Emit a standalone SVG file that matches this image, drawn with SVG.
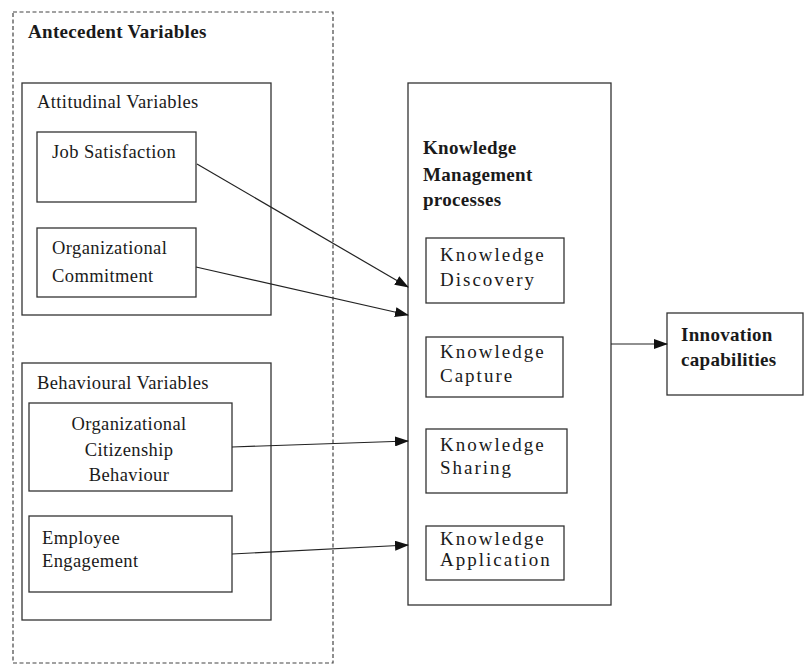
<svg xmlns="http://www.w3.org/2000/svg" width="805" height="665" viewBox="0 0 805 665">
<style>
.box{fill:#fff;stroke:#333;stroke-width:1.3}
.dash{fill:none;stroke:#444;stroke-width:1.2;stroke-dasharray:4 2.5}
.t{font-family:"Liberation Serif","Times New Roman",serif;font-size:18.5px;fill:#1a1a1a;letter-spacing:0.4px}
.b{font-family:"Liberation Serif","Times New Roman",serif;font-size:19px;font-weight:bold;fill:#1a1a1a;letter-spacing:0.3px}
.k{font-family:"Liberation Serif","Times New Roman",serif;font-size:19px;fill:#1a1a1a;letter-spacing:2px}
.c{stroke:#222;stroke-width:1.2;fill:none;marker-end:url(#ah)}
</style>
<defs>
<marker id="ah" markerWidth="14" markerHeight="10" refX="13" refY="5" orient="auto" markerUnits="userSpaceOnUse">
<path d="M0,0 L14,5 L0,10 Z" fill="#111"/>
</marker>
</defs>
<rect width="805" height="665" fill="#fff"/>
<g id="antecedent">
<rect class="dash" x="13" y="12" width="320" height="651"/>
<text class="b" x="28" y="38">Antecedent Variables</text>
</g>
<g id="attitudinal">
<rect class="box" x="22" y="83" width="249" height="232"/>
<text class="t" x="37" y="108">Attitudinal Variables</text>
</g>
<g id="job-satisfaction">
<rect class="box" x="37" y="132" width="159" height="70"/>
<text class="t" x="52" y="158">Job Satisfaction</text>
</g>
<g id="org-commitment">
<rect class="box" x="37" y="228" width="159" height="69"/>
<text class="t" x="52" y="254">Organizational</text>
<text class="t" x="52" y="282">Commitment</text>
</g>
<g id="behavioural">
<rect class="box" x="22" y="363" width="249" height="257"/>
<text class="t" x="37" y="389">Behavioural Variables</text>
</g>
<g id="ocb">
<rect class="box" x="29" y="403" width="203" height="88"/>
<text class="t" x="129" y="430" text-anchor="middle">Organizational</text>
<text class="t" x="129" y="456" text-anchor="middle">Citizenship</text>
<text class="t" x="129" y="481" text-anchor="middle">Behaviour</text>
</g>
<g id="engagement">
<rect class="box" x="29" y="516" width="203" height="76"/>
<text class="t" x="42" y="544">Employee</text>
<text class="t" x="42" y="567">Engagement</text>
</g>
<g id="km">
<rect class="box" x="408" y="83" width="203" height="522"/>
<text class="b" x="423" y="154">Knowledge</text>
<text class="b" x="423" y="181">Management</text>
<text class="b" x="423" y="206">processes</text>
</g>
<g id="discovery">
<rect class="box" x="426" y="238" width="138" height="65"/>
<text class="k" x="440" y="261">Knowledge</text>
<text class="k" x="440" y="286">Discovery</text>
</g>
<g id="capture">
<rect class="box" x="426" y="337" width="137" height="60"/>
<text class="k" x="440" y="358">Knowledge</text>
<text class="k" x="440" y="382">Capture</text>
</g>
<g id="sharing">
<rect class="box" x="426" y="429" width="141" height="64"/>
<text class="k" x="440" y="451">Knowledge</text>
<text class="k" x="440" y="474">Sharing</text>
</g>
<g id="application">
<rect class="box" x="426" y="526" width="138" height="54"/>
<text class="k" x="440" y="545">Knowledge</text>
<text class="k" x="440" y="566">Application</text>
</g>
<g id="innovation">
<rect class="box" x="667" y="313" width="136" height="82"/>
<text class="b" x="681" y="341">Innovation</text>
<text class="b" x="681" y="366">capabilities</text>
</g>
<g id="connectors">
<line class="c" x1="197" y1="164" x2="408" y2="287"/>
<line class="c" x1="196" y1="267" x2="408" y2="315"/>
<line class="c" x1="232" y1="447" x2="408" y2="441"/>
<line class="c" x1="232" y1="554" x2="408" y2="545"/>
<line class="c" x1="611" y1="344" x2="667" y2="344"/>
</g>
</svg>
